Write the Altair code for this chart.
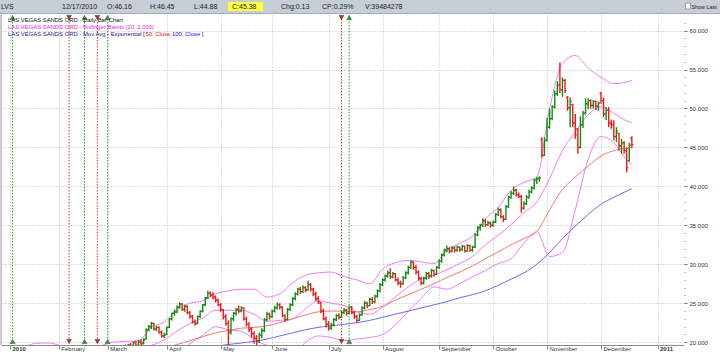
import json
import altair as alt
import pandas as pd

# ---------------- data ----------------
bar_start = 42  # trading-day index of first bar (0 = 4 Jan 2010)

opens = [
    18.4, 18.6, 18.9, 19.5, 19.2, 19.7, 19.4, 20.0, 19.6, 20.1,
    19.9, 20.4, 21.6, 22.0, 22.4, 21.7, 21.9, 21.3, 20.8, 21.0,
    21.9, 23.0, 23.7, 23.9, 24.5, 24.9, 24.2, 24.6, 23.8, 23.3,
    22.6, 22.4, 23.3, 24.0, 24.8, 25.7, 26.3, 26.1, 25.8, 25.4,
    24.8, 24.1, 23.3, 22.4, 21.4, 23.0, 23.7, 24.2, 24.0, 24.4,
    23.0, 22.3, 21.7, 21.1, 20.5, 20.2, 20.9, 21.5, 22.9, 23.6,
    23.3, 24.0, 24.4, 24.8, 24.5, 23.4, 22.9, 24.2, 24.8, 25.6,
    26.2, 26.8, 26.5, 27.0, 26.7, 27.4, 26.8, 26.2, 25.6, 25.0,
    24.0, 23.0, 22.3, 21.8, 22.2, 22.9, 23.4, 23.2, 23.8, 24.1,
    23.7, 24.5, 23.8, 23.3, 22.8, 23.5, 24.4, 25.0, 24.7, 25.5,
    25.2, 25.9, 26.6, 27.4, 28.0, 28.5, 28.9, 28.4, 28.8, 28.0,
    27.6, 27.5, 28.3, 28.9, 29.6, 30.3, 29.6, 29.0, 28.2, 27.6,
    28.2, 28.8, 28.5, 29.2, 28.7, 29.6, 30.4, 31.2, 31.8, 32.0,
    31.7, 32.1, 31.8, 32.2, 31.9, 32.3, 31.7, 32.4, 31.8, 32.2,
    33.8, 34.7, 35.0, 35.6, 35.1, 35.3, 35.0, 35.4, 36.4, 37.0,
    36.1, 35.8, 37.4, 38.6, 39.1, 39.5, 38.9, 38.7, 37.2, 37.8,
    38.6, 39.3, 39.8, 40.8, 41.0, 46.0, 44.0, 45.9, 47.6, 48.7,
    50.2, 51.9, 53.0, 52.4, 53.6, 51.4, 50.1, 50.5, 48.2, 47.4,
    45.0, 47.9, 49.4, 50.6, 51.0, 50.4, 50.9, 50.3, 52.0, 51.0,
    49.3, 49.8, 48.1, 47.9, 46.4, 46.8, 45.2, 45.6, 44.6, 43.3,
    46.16,
]
highs = [
    18.8, 19.1, 19.6, 19.7, 19.8, 19.9, 20.1, 20.2, 20.3, 20.4,
    20.5, 21.8, 22.2, 22.6, 22.5, 22.1, 22.0, 21.5, 21.2, 22.0,
    23.1, 23.8, 24.2, 24.7, 25.1, 25.0, 24.8, 24.7, 24.0, 23.5,
    22.9, 23.4, 24.1, 24.9, 25.8, 26.6, 26.5, 26.4, 26.0, 25.6,
    25.0, 24.3, 23.6, 22.8, 23.2, 23.9, 24.4, 24.7, 24.6, 24.5,
    23.3, 22.6, 21.9, 21.4, 20.9, 21.2, 21.8, 23.1, 23.9, 23.8,
    24.2, 24.7, 25.1, 25.0, 24.6, 23.6, 24.4, 25.0, 25.8, 26.4,
    27.0, 27.1, 27.3, 27.2, 27.9, 27.6, 27.0, 26.5, 25.9, 25.2,
    24.3, 23.3, 22.7, 22.5, 23.1, 23.6, 23.7, 24.0, 24.4, 24.3,
    24.7, 24.6, 24.0, 23.5, 23.7, 24.6, 25.3, 25.2, 25.7, 25.8,
    26.1, 26.8, 27.6, 28.2, 28.7, 29.2, 29.5, 29.0, 28.9, 28.3,
    27.9, 28.5, 29.1, 29.8, 30.5, 30.4, 29.9, 29.2, 28.4, 28.4,
    29.0, 29.0, 29.4, 29.3, 29.8, 30.6, 31.4, 32.0, 32.4, 32.2,
    32.3, 32.3, 32.4, 32.3, 32.5, 32.4, 32.6, 32.5, 32.4, 34.0,
    34.9, 35.2, 35.9, 35.8, 35.6, 35.5, 35.6, 36.6, 37.3, 37.2,
    36.3, 37.6, 38.8, 39.4, 40.0, 39.7, 39.2, 38.9, 38.1, 38.9,
    39.6, 40.0, 41.0, 41.2, 41.3, 46.3, 46.3, 48.8, 50.0, 50.4,
    52.3, 53.5, 55.9, 54.0, 53.8, 51.6, 51.4, 50.6, 49.3, 47.5,
    49.0, 49.7, 51.3, 51.3, 51.2, 51.1, 51.0, 50.9, 52.1, 51.4,
    50.2, 50.2, 48.6, 48.5, 47.6, 46.9, 46.1, 45.8, 45.0, 45.6,
    46.45,
]
lows = [
    18.2, 18.5, 18.8, 19.0, 19.1, 19.2, 19.3, 19.4, 19.5, 19.6,
    19.7, 20.3, 21.4, 21.7, 21.5, 21.4, 21.1, 20.6, 20.5, 20.9,
    21.8, 22.8, 23.4, 23.7, 24.3, 24.0, 23.9, 23.6, 23.0, 22.4,
    22.1, 22.3, 23.1, 23.8, 24.6, 25.5, 25.8, 25.5, 25.1, 24.6,
    23.9, 22.9, 22.1, 18.9, 21.0, 22.7, 23.4, 23.7, 23.8, 22.8,
    22.0, 21.3, 20.6, 19.8, 19.5, 19.9, 20.5, 21.3, 22.7, 22.9,
    23.1, 23.8, 24.2, 24.2, 23.2, 22.6, 22.8, 24.0, 24.6, 25.4,
    26.0, 26.2, 26.3, 26.4, 26.6, 26.5, 25.9, 25.3, 24.9, 23.7,
    22.8, 21.9, 21.5, 21.6, 22.0, 22.7, 22.9, 23.1, 23.6, 23.4,
    23.6, 23.6, 23.0, 22.5, 22.7, 23.4, 24.2, 24.4, 24.6, 24.9,
    25.0, 25.7, 26.4, 27.2, 27.8, 28.3, 28.1, 28.2, 27.8, 27.3,
    27.0, 27.4, 28.1, 28.7, 29.4, 29.3, 28.7, 27.9, 27.3, 27.4,
    28.0, 28.1, 28.3, 28.4, 28.6, 29.4, 30.2, 31.0, 31.5, 31.4,
    31.5, 31.5, 31.6, 31.6, 31.7, 31.5, 31.6, 31.6, 31.6, 32.1,
    33.6, 34.3, 34.8, 34.8, 34.9, 34.7, 34.8, 35.3, 36.2, 35.9,
    35.4, 35.7, 37.2, 38.4, 38.9, 38.7, 38.5, 36.6, 37.0, 37.6,
    38.4, 39.1, 39.6, 40.3, 40.6, 43.7, 43.9, 45.8, 47.4, 48.5,
    50.0, 51.6, 52.0, 51.5, 52.0, 49.7, 47.6, 47.6, 46.1, 44.2,
    44.9, 47.5, 49.2, 49.9, 50.0, 50.0, 49.8, 49.7, 50.6, 48.9,
    48.5, 47.6, 47.4, 45.9, 45.7, 44.6, 44.2, 44.2, 41.8, 43.2,
    44.88,
]
closes = [
    18.6, 18.9, 19.4, 19.2, 19.6, 19.4, 19.9, 19.6, 20.0, 19.8,
    20.3, 21.6, 22.0, 22.4, 21.7, 21.9, 21.3, 20.8, 20.9, 21.9,
    23.0, 23.7, 23.9, 24.5, 24.9, 24.2, 24.6, 23.8, 23.3, 22.6,
    22.4, 23.3, 24.0, 24.8, 25.7, 26.3, 26.0, 25.7, 25.4, 24.8,
    24.2, 23.3, 22.4, 21.2, 23.0, 23.7, 24.2, 24.0, 24.4, 23.0,
    22.3, 21.6, 21.1, 20.6, 20.2, 20.9, 21.5, 22.9, 23.6, 23.3,
    24.0, 24.4, 24.8, 24.5, 23.4, 22.9, 24.2, 24.8, 25.6, 26.2,
    26.8, 26.5, 27.0, 26.7, 27.4, 26.8, 26.2, 25.6, 25.2, 24.0,
    23.0, 22.3, 21.8, 22.2, 22.9, 23.4, 23.2, 23.8, 24.1, 23.7,
    24.5, 23.8, 23.3, 22.8, 23.5, 24.4, 25.0, 24.7, 25.5, 25.2,
    25.9, 26.6, 27.4, 28.0, 28.5, 28.9, 28.4, 28.8, 28.0, 27.6,
    27.5, 28.3, 28.9, 29.6, 30.3, 29.6, 29.0, 28.2, 27.6, 28.2,
    28.8, 28.5, 29.2, 28.7, 29.6, 30.4, 31.2, 31.8, 32.0, 31.7,
    32.1, 31.8, 32.2, 31.9, 32.3, 31.7, 32.4, 31.8, 32.2, 33.8,
    34.7, 35.0, 35.6, 35.1, 35.3, 35.0, 35.4, 36.4, 37.0, 36.1,
    35.8, 37.4, 38.6, 39.1, 39.5, 38.9, 38.7, 37.2, 37.8, 38.6,
    39.3, 39.8, 40.8, 41.0, 41.1, 44.0, 45.9, 47.6, 48.7, 50.2,
    51.9, 53.0, 52.4, 53.6, 52.3, 50.1, 50.9, 48.1, 46.6, 45.0,
    47.9, 49.4, 50.6, 51.0, 50.4, 50.9, 50.3, 50.7, 51.0, 49.3,
    49.8, 48.1, 47.9, 46.4, 47.1, 45.2, 45.6, 44.6, 42.4, 45.3,
    45.38,
]

# indicator lines, read every 5 trading days
line_idx = [40, 45, 50, 55, 60, 65, 70, 75, 80, 85, 90, 95, 100, 105, 110,
            115, 120, 125, 130, 135, 140, 145, 150, 155, 160, 165, 170, 175,
            180, 185, 190, 195, 200, 205, 210, 215, 220, 225, 230, 235, 240, 242]
bb_upper = [20.0, 20.1, 20.2, 21.9, 22.6, 24.2, 25.0, 25.3, 26.2, 26.6,
            26.8, 26.8, 25.8, 26.2, 27.6, 28.6, 28.9, 29.0, 28.4, 28.0,
            27.5, 29.4, 30.2, 30.5, 30.3, 30.1, 31.8, 32.7, 33.6, 35.8,
            37.3, 39.5, 40.5, 41.2, 50.0, 55.8, 56.8, 55.2, 54.0, 53.2,
            53.4, 53.6]
bb_middle = [18.6, 19.0, 19.3, 19.6, 20.3, 21.4, 22.4, 23.1, 24.1, 24.1,
             24.1, 23.6, 22.7, 22.8, 23.0, 24.3, 25.3, 25.0, 24.7, 23.9,
             23.6, 24.5, 25.8, 27.1, 28.1, 28.6, 29.3, 30.1, 31.0, 32.5,
             33.7, 35.1, 36.6, 38.0, 41.0, 44.6, 47.0, 49.2, 50.2, 49.4,
             48.4, 48.2]
bb_lower = [17.2, 17.9, 18.4, 17.3, 18.0, 18.6, 19.8, 20.9, 22.0, 21.6,
            21.4, 20.4, 19.6, 19.4, 18.4, 20.0, 20.8, 20.6, 20.2, 20.4,
            20.6, 21.0, 22.2, 24.0, 25.6, 27.1, 26.8, 27.5, 28.4, 29.2,
            30.1, 30.7, 32.7, 34.2, 31.0, 31.5, 37.0, 43.5, 46.4, 45.6,
            43.4, 42.8]
ema50 = [18.0, 18.3, 18.6, 19.0, 19.3, 19.7, 20.2, 20.7, 21.2, 21.5,
         21.8, 21.9, 22.1, 22.5, 23.0, 23.5, 23.9, 24.0, 24.0, 23.9,
         24.2, 24.6, 25.4, 26.1, 26.8, 27.5, 28.3, 29.0, 29.8, 30.7,
         31.6, 32.5, 33.3, 34.2, 37.0, 39.6, 41.2, 42.6, 43.9, 44.6,
         44.9, 45.0]
ema100 = [17.2, 17.5, 17.8, 18.2, 18.5, 18.8, 19.1, 19.3, 19.5, 19.7,
          19.9, 20.1, 20.4, 20.8, 21.2, 21.6, 21.9, 22.1, 22.3, 22.5,
          22.8, 23.2, 23.6, 24.0, 24.4, 24.8, 25.2, 25.7, 26.1, 26.6,
          27.3, 28.1, 28.9, 30.0, 31.5, 33.3, 34.9, 36.4, 37.7, 38.6,
          39.4, 39.7]
bb_upper_early_idx = [0, 5, 10, 15, 20, 25, 30, 35]
bb_upper_early = [18.5, 19.3, 19.85, 19.9, 19.5, 19.0, 19.1, 19.5]

month_idx = [0, 19, 38, 61, 82, 102, 124, 145, 167, 188, 209, 230, 252]
month_names = ["2010", "February", "March", "April", "May", "June", "July",
               "August", "September", "October", "November", "December", "2011"]
price_ticks = list(range(20, 62))

signal_idx = [1, 23, 29, 34, 38, 129, 132]
signal_type = ["buy", "sell", "buy", "sell", "buy", "sell", "buy"]

header_items = ["LVS", "12/17/2010", "O:46.16", "H:46.45", "L:44.88", "C:45.38",
                "Chg:0.13", "CP:0.29%", "V:39484278"]

# ---------------- tables ----------------
n = len(closes)
assert len(opens) == n and len(highs) == n and len(lows) == n
bars = pd.DataFrame({"i": list(range(bar_start, bar_start + n)),
                     "o": opens, "h": highs, "l": lows, "c": closes})
bars["d"] = ["up" if c >= o else "down" for o, c in zip(opens, closes)]

rows = []
for i, v in zip(bb_upper_early_idx, bb_upper_early):
    rows.append({"i": i, "v": v, "s": "bb_up"})
for name, vals in [("bb_up", bb_upper), ("bb_mid", bb_middle), ("bb_low", bb_lower),
                   ("ema50", ema50), ("ema100", ema100)]:
    for i, v in zip(line_idx, vals):
        rows.append({"i": i, "v": v, "s": name})
lines = pd.DataFrame(rows)
signals = pd.DataFrame({"i": signal_idx, "t": signal_type})
one = pd.DataFrame({"k": [0]})

# ---------------- styles ----------------
FONT = "Liberation Sans"
GREEN = "#128a12"
RED = "#f01a1a"
X_SC = alt.Scale(domain=[-3.5, 262.3], nice=False, zero=False)
Y_SC = alt.Scale(domain=[19.64, 62.0], nice=False, zero=False)

x_axis = alt.Axis(
    values=month_idx,
    labelExpr=f"{json.dumps(month_names)}[indexof({json.dumps(month_idx)}, datum.value)]",
    labelAlign="left", labelOffset=2, labelPadding=-3.5, labelBaseline="top",
    labelFontWeight={"condition": {"test": "datum.value == 0 || datum.value == 252",
                                   "value": "bold"}, "value": "normal"},
    labelFontSize=6, labelColor="#333", labelFont=FONT,
    labelOverlap=False, labelBound=False, labelFlush=False,
    tickSize=4, tickColor="#888", domainColor="#8a8a8a",
    grid=True, gridColor="#bdbdbd", gridDash=[1, 2], title=None)

y_axis = alt.Axis(
    orient="right", values=price_ticks,
    labelExpr="datum.value % 5 == 0 ? format(datum.value, '.3f') : ''",
    tickSize={"condition": {"test": "datum.value % 5 == 0", "value": 3}, "value": 1},
    gridOpacity={"condition": {"test": "datum.value % 5 == 0", "value": 1}, "value": 0},
    grid=True, gridColor="#bdbdbd", gridDash=[1, 2], domain=False,
    labelPadding=2, labelFontSize=6, labelColor="#333", labelFont=FONT,
    labelOverlap=False, tickColor="#777", title=None)


def X(field):
    return alt.X(field, scale=X_SC, axis=x_axis)


def Y(field):
    return alt.Y(field, scale=Y_SC, axis=y_axis)


bar_color = alt.Color("d:N", scale=alt.Scale(domain=["up", "down"], range=[GREEN, RED]), legend=None)

# ---------------- layers ----------------
hl = alt.Chart(bars).mark_rule(strokeWidth=1.4, clip=True).encode(
    x=X("i:Q"), y=Y("l:Q"), y2="h:Q", color=bar_color)
open_tick = alt.Chart(bars).transform_calculate(x0="datum.i - 0.6").mark_rule(
    strokeWidth=1.3, clip=True).encode(x=X("x0:Q"), x2="i:Q", y=Y("o:Q"), color=bar_color)
close_tick = alt.Chart(bars).transform_calculate(x1="datum.i + 0.6").mark_rule(
    strokeWidth=1.3, clip=True).encode(x=X("i:Q"), x2="x1:Q", y=Y("c:Q"), color=bar_color)

line_layer = alt.Chart(lines).mark_line(strokeWidth=1, clip=True, interpolate="monotone").encode(
    x=X("i:Q"), y=Y("v:Q"),
    color=alt.Color("s:N", scale=alt.Scale(
        domain=["bb_up", "bb_mid", "bb_low", "ema50", "ema100"],
        range=["#f27cf2", "#f27cf2", "#f27cf2", "#f07a6e", "#6a6af0"]), legend=None),
    detail="s:N",
)

sig_color = alt.Color("t:N", scale=alt.Scale(domain=["buy", "sell"], range=["#2e9e2e", "#d83a2a"]), legend=None)
sig_lines = alt.Chart(signals).mark_rule(strokeDash=[1.5, 1.5], strokeWidth=1).encode(
    x=X("i:Q"), y=alt.value(4), y2=alt.value(325), color=sig_color)
sig_shape = alt.Shape("t:N", scale=alt.Scale(domain=["buy", "sell"], range=["triangle-up", "triangle-down"]), legend=None)
sig_fill = alt.Fill("t:N", scale=alt.Scale(domain=["buy", "sell"], range=["#2e9e2e", "#b8301e"]), legend=None)
sig_top = alt.Chart(signals).mark_point(filled=True, size=26, opacity=1, stroke="#444", strokeWidth=0.4).encode(
    x=X("i:Q"), y=alt.value(2.5), shape=sig_shape, fill=sig_fill)
sig_bot = alt.Chart(signals).mark_point(filled=True, size=26, opacity=1, stroke="#444", strokeWidth=0.4).encode(
    x=X("i:Q"), y=alt.value(326.5), shape=sig_shape, fill=sig_fill)

left_border = alt.Chart(one).mark_rule(color="#9a9a9a", strokeWidth=1).encode(
    x=alt.value(0), y=alt.value(0), y2=alt.value(330))


def txt(s, x, y, color="#222", size=6, weight="normal", align="left"):
    return alt.Chart(one).mark_text(text=s, font=FONT, fontSize=size, fontWeight=weight,
                                    color=color, align=align, baseline="middle").encode(
        x=alt.value(x), y=alt.value(y))


def box(x, x2, y, y2, fill, stroke=None):
    kw = {"fill": fill}
    if stroke:
        kw.update(stroke=stroke, strokeWidth=0.8)
    return alt.Chart(one).mark_rect(**kw).encode(
        x=alt.value(x), x2=alt.value(x2), y=alt.value(y), y2=alt.value(y2))


header = [
    box(-1, 719, -15, -2, "#c6ced6"),
    alt.Chart(one).mark_rule(color="#a3acb5", strokeWidth=1).encode(
        x=alt.value(-1), x2=alt.value(719), y=alt.value(-1.5)),
    box(227, 262, -13, -4, "#ffff3c"),
    box(684.5, 689.5, -12, -6, "#ffffff", "#8a8a8a"),
    txt("Show Last", 690.5, -8.5, size=5.4),
]
header_x = [0, 61, 106, 149, 193, 231, 280, 321, 364]
for s, hx in zip(header_items, header_x):
    header.append(txt(s, hx, -8.5, size=7))

legend = [
    txt("LAS VEGAS SANDS ORD - Daily Bar Chart", 7, 5, color="#111", size=5.9),
    txt("LAS VEGAS SANDS ORD - Bollinger Bands [20, 2.000]", 7, 12, color="#e81ee8", size=5.9),
    txt("LAS VEGAS SANDS ORD - Mov Avg - Exponential [", 7, 19, color="#1a1a80", size=5.9),
    txt("50, Close,", 144.4, 19, color="#e01010", size=5.9),
    txt(" 100, Close", 171, 19, color="#1414e0", size=5.9),
    txt("]", 200.8, 19, color="#1a1a80", size=5.9),
]

chart = alt.layer(
    sig_lines, line_layer, hl, open_tick, close_tick, sig_top, sig_bot,
    left_border, *header, *legend,
).resolve_scale(color="independent", shape="independent", fill="independent").properties(
    width=683, height=330,
    padding={"left": 1, "top": 15, "right": 36, "bottom": 8},
    autosize=alt.AutoSizeParams(type="none"),
    background="white",
).configure(font=FONT).configure_view(stroke=None)

chart.save("out.html", embed_options={"renderer": "svg", "actions": False})
